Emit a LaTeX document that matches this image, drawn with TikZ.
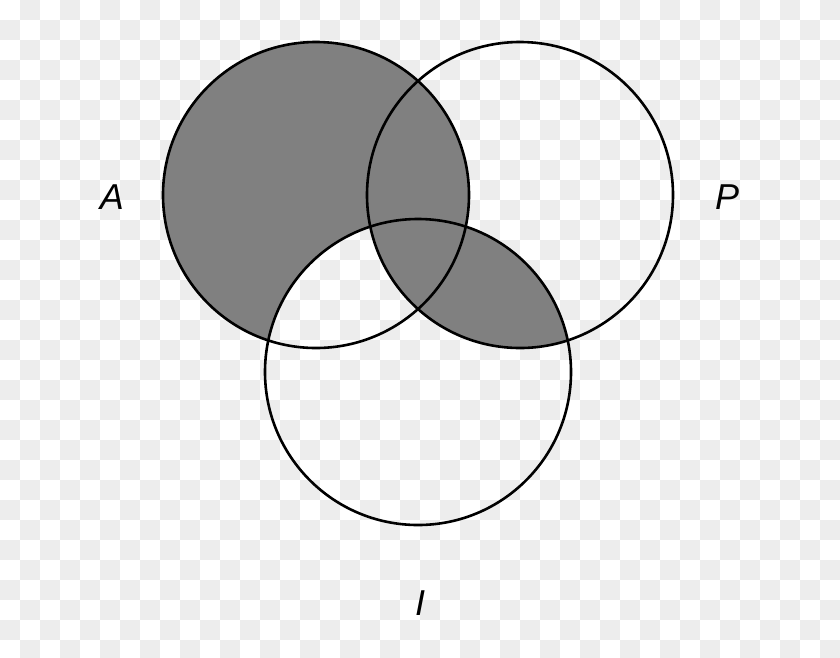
\documentclass[tikz,border=0pt]{standalone}
\usepackage{fontspec}
\newfontfamily\labelfont{Liberation Sans}
\usetikzlibrary{positioning}

\begin{document}
\begin{tikzpicture}[x=1pt,y=-1pt,
    setline/.style={draw=black,line width=2.6pt},
    setfill/.style={fill=black!50},
    setlabel/.style={font=\labelfont\itshape\fontsize{36}{40}\selectfont,inner sep=0pt}]
    \useasboundingbox (0,0) rectangle (840,657);

    % the checkered background
    \foreach \i in {0,...,41}{
        \foreach \j in {0,...,32}{
            \pgfmathtruncatemacro\odd{mod(\i+\j,2)}
            \ifnum\odd=1
                \fill[black!7] (20*\i,20*\j) rectangle ++(20,20);
            \fi
        }
    }

    % the centres of the three sets
    \coordinate (setA) at (316,195);
    \coordinate (setP) at (520,195);
    \coordinate (setI) at (418,372);

    % the shaded parts
    \begin{scope}
        \clip (setA) circle[radius=153pt];
        \fill[setfill,even odd rule] (setA) circle[radius=153pt] (setI) circle[radius=153pt];
    \end{scope}
    \begin{scope}
        \clip (setI) circle[radius=153pt];
        \fill[setfill] (setP) circle[radius=153pt];
    \end{scope}

    % the circles and labels
    \draw[setline] (setA) circle[radius=153pt];
    \draw[setline] (setP) circle[radius=153pt];
    \draw[setline] (setI) circle[radius=153pt];

    \node[setlabel] (labelA) at (112,197) {A};
    \node[setlabel] (labelP) at (727,197) {P};
    \node[setlabel] (labelI) at (420,603) {I};
\end{tikzpicture}
\end{document}
